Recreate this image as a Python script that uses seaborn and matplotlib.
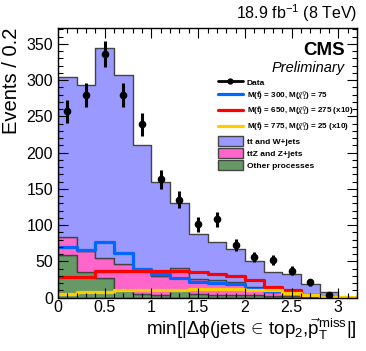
import numpy as np
import pandas as pd
import seaborn as sns
import matplotlib
matplotlib.use('Agg')
import matplotlib.pyplot as plt
from matplotlib.lines import Line2D
from matplotlib.patches import Patch
from matplotlib.ticker import MultipleLocator

# binning: 16 bins of width 0.2 between 0 and 3.2
bin_edges = [round(0.2 * i, 2) for i in range(17)]
bin_centers = np.array([round(0.2 * i + 0.1, 2) for i in range(16)])

# background processes (events per bin)
tt_wjets = [221, 230, 290, 261, 171, 130, 89, 62, 53, 46, 36, 27, 24, 15, 6, 0]
ttz_zjets = [25, 29, 28, 35, 35, 26, 31, 21, 21, 18, 11, 6, 7, 2, 1, 0]
other_proc = [59, 35, 27, 11, 5, 4, 10, 5, 3, 3, 3, 2, 2, 1, 0, 0]

# observed data
data_obs = [257, 279, 336, 279, 239, 163, 135, 101, 108, 72, 56, 52, 37, 21, 3, np.nan]

# signal points
sig_300_75 = [70, 66, 77, 61, 40, 33, 27, 21, 20, 19, 12, 9, 7, 3, 1, 0]
sig_650_275 = [28, 28, 36, 36, 37, 36, 36, 35, 33, 30, 24, 15, 11, 4, 1, 0]
sig_775_25 = [5, 7, 8, 10, 10, 11, 11, 12, 12, 12, 11, 10, 6, 3, 1, 1]

proc_names = ['tt and W+jets', 'ttZ and Z+jets', 'Other processes']
proc_colors = ['#9999ff', '#ff66cc', '#669966']
edge_col = '#444444'

sig_labels = [r'M($\tilde{\mathbf{t}}$) = 300, M($\tilde{\chi}^{0}_{1}$) = 75',
              r'M($\tilde{\mathbf{t}}$) = 650, M($\tilde{\chi}^{0}_{1}$) = 275 (x10)',
              r'M($\tilde{\mathbf{t}}$) = 775, M($\tilde{\chi}^{0}_{1}$) = 25 (x10)']
sig_colors = ['#0066ff', '#ff0000', '#ffcc00']

sns.set_theme(style='ticks')
plt.rcParams['font.family'] = ['Liberation Sans', 'DejaVu Sans']
plt.rcParams['mathtext.fontset'] = 'custom'
plt.rcParams['mathtext.rm'] = 'Liberation Sans'
plt.rcParams['mathtext.it'] = 'Liberation Sans:italic'
plt.rcParams['mathtext.bf'] = 'Liberation Sans:bold'
for key in ['text.color', 'axes.labelcolor', 'xtick.color', 'ytick.color', 'axes.edgecolor']:
    plt.rcParams[key] = 'black'

W, H = 366, 351
fig = plt.figure(figsize=(W / 100, H / 100), dpi=100)
ax = fig.add_axes([58 / W, 1 - 297.5 / H, (357 - 58) / W, (297.5 - 28) / H])

bkg = pd.DataFrame({
    'x': np.tile(bin_centers, 3),
    'w': np.concatenate([tt_wjets, ttz_zjets, other_proc]),
    'process': np.repeat(proc_names, len(bin_centers)),
})

sns.histplot(data=bkg, x='x', weights='w', hue='process', hue_order=proc_names,
             palette=dict(zip(proc_names, proc_colors)), multiple='stack',
             bins=bin_edges, element='step', alpha=1, edgecolor=edge_col,
             linewidth=1.0, legend=False, ax=ax)

for vals, col in zip([sig_300_75, sig_650_275, sig_775_25], sig_colors):
    sns.histplot(x=bin_centers, weights=vals, bins=bin_edges, element='step',
                 fill=False, color=col, linewidth=2.3, ax=ax)

data_arr = np.array(data_obs, dtype=float)
ax.errorbar(bin_centers, data_arr, yerr=np.sqrt(data_arr), fmt='o', color='black',
            ms=4.5, elinewidth=2.2, capsize=0, zorder=10)

ax.set_xlim(0, 3.2)
ax.set_ylim(0, 372)
ax.xaxis.set_minor_locator(MultipleLocator(0.1))
ax.yaxis.set_major_locator(MultipleLocator(50))
ax.yaxis.set_minor_locator(MultipleLocator(10))
ax.set_xticks([0, 0.5, 1, 1.5, 2, 2.5, 3])
ax.set_xticklabels(['0', '0.5', '1', '1.5', '2', '2.5', '3'])
ax.tick_params(which='both', direction='in', top=True, right=True, labelsize=11.5,
               width=0.8, color='black')
ax.tick_params(which='major', length=7)
ax.tick_params(which='minor', length=3.5)
ax.tick_params(axis='x', pad=2)
for sp in ax.spines.values():
    sp.set_linewidth(1.0)
ax.set_axisbelow(False)

ax.set_ylabel('Events / 0.2', fontsize=14.5, loc='top', labelpad=4)
ax.set_xlabel(r'min[|$\Delta\mathrm{\phi}$(jets$\,\in\,$top$_{2}$,$\vec{\mathrm{p}}_{\mathrm{T}}^{\mathrm{miss}}$|]',
              fontsize=13.5, loc='right', labelpad=1)

fig.text(357 / W, 1 - 19 / H, r'18.9 fb$^{-1}$ (8 TeV)', ha='right', va='baseline', fontsize=11.5)
fig.text(345 / W, 1 - 55 / H, 'CMS', ha='right', va='baseline', fontsize=13.5, fontweight='bold')
fig.text(345 / W, 1 - 72 / H, 'Preliminary', ha='right', va='baseline', fontsize=10.5, style='italic')

handles = [Line2D([], [], color='black', marker='o', ms=3.5, lw=2)]
handles += [Line2D([], [], color=c, lw=2.3) for c in sig_colors]
handles += [Patch(facecolor=c, edgecolor=edge_col, linewidth=1) for c in proc_colors]
labels = ['Data'] + sig_labels + proc_names
leg = ax.legend(handles, labels, loc='upper left', bbox_to_anchor=((215 - 58) / 299, (297.5 - 74) / 269.5),
                frameon=False, prop={'size': 6.0, 'weight': 'bold'}, handlelength=2.9,
                handleheight=1.4, labelspacing=0.3, handletextpad=0.5, borderaxespad=0)
for t in leg.get_texts()[1:4]:
    t.set_fontsize(5.8)

fig.savefig('out.png', dpi=100)
